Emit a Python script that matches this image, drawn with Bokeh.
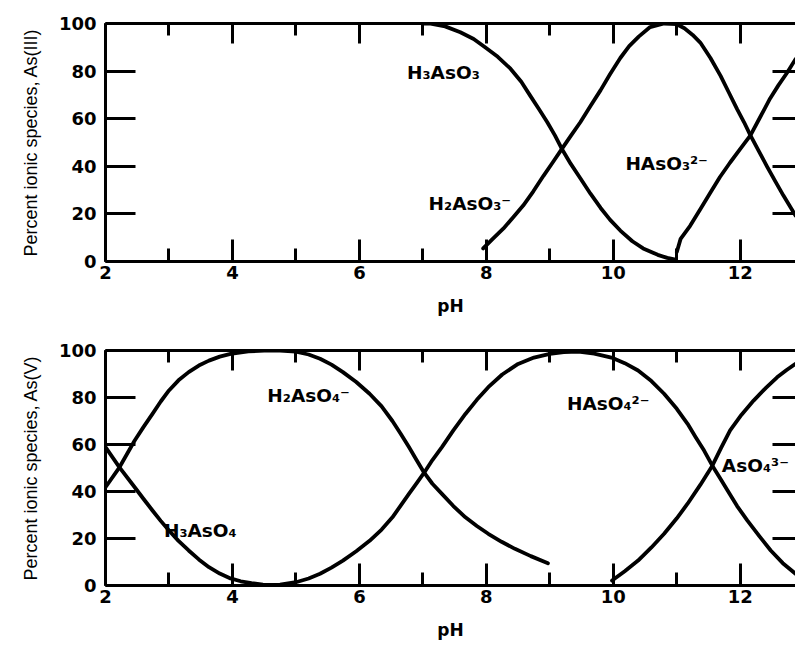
from bokeh.plotting import figure
from bokeh.models import (LinearAxis, SingleIntervalTicker, FixedTicker, Range1d,
                          CustomJSTickFormatter, ColumnDataSource)
from bokeh.layouts import column
from bokeh.embed import file_html
from bokeh.resources import INLINE
from bokeh.core.properties import value

# ---------------- As(III) panel data (pH, percent) ----------------
as3_h3aso3_ph = [7.00, 7.10, 7.35, 7.59, 7.80, 7.98, 8.18, 8.38, 8.55, 8.69, 8.83, 8.96, 9.08, 9.19, 9.33, 9.48, 9.64, 9.80, 9.95, 10.11, 10.30, 10.47, 10.70, 10.85, 10.98]
as3_h3aso3_pct = [100, 100, 98.8, 96.3, 93.5, 90, 86, 81, 75.5, 69.7, 64, 58.5, 53, 47.3, 41, 35, 28.5, 22.5, 17.5, 13, 8.5, 5.5, 2.8, 1.5, 0.8]

as3_h2aso3_ph = [7.95, 8.10, 8.27, 8.42, 8.58, 8.74, 8.90, 9.05, 9.19, 9.33, 9.48, 9.64, 9.80, 9.95, 10.11, 10.25, 10.40, 10.58, 10.80, 11.00, 11.12, 11.25, 11.37, 11.53, 11.69, 11.82, 11.95, 12.06, 12.16, 12.29, 12.42, 12.55, 12.68, 12.87]
as3_h2aso3_pct = [5.5, 9.5, 13.9, 18.5, 23.5, 29.5, 36, 41.8, 47.3, 52.8, 58.5, 65.3, 72, 78.8, 85.5, 90.5, 94.5, 98.5, 100, 99.7, 98, 95.2, 92, 85.5, 78, 71, 64, 58.5, 53, 46.5, 40, 33.8, 27.7, 19.3]

as3_haso3_ph = [11.00, 11.06, 11.21, 11.37, 11.53, 11.68, 11.84, 12.00, 12.16, 12.31, 12.47, 12.60, 12.74, 12.87]
as3_haso3_pct = [4, 9.5, 15, 22, 29, 35.5, 41.6, 47.3, 53, 60.5, 68.5, 74, 79.4, 85]

as3_label_text = ["H\u2083AsO\u2083", "H\u2082AsO\u2083\u207b", "HAsO\u2083\u00b2\u207b"]
as3_label_ph = [6.75, 7.09, 10.19]
as3_label_pct = [79.5, 24.4, 41]

# ---------------- As(V) panel data (pH, percent) ----------------
as5_h3aso4_ph = [2.00, 2.22, 2.46, 2.60, 2.74, 2.87, 3.00, 3.15, 3.31, 3.47, 3.63, 3.80, 3.97, 4.13, 4.30, 4.48, 4.67, 4.80]
as5_h3aso4_pct = [58.9, 50.3, 41.8, 36.8, 31.9, 27.5, 23.4, 19, 14.9, 11.1, 7.8, 5.1, 3, 1.8, 1, 0.4, 0.1, 0]

as5_h2aso4_ph = [2.00, 2.22, 2.46, 2.60, 2.74, 2.87, 3.00, 3.15, 3.31, 3.47, 3.63, 3.80, 3.97, 4.25, 4.50, 4.75, 5.00, 5.20, 5.38, 5.56, 5.74, 5.95, 6.16, 6.35, 6.52, 6.65, 6.78, 6.90, 7.02, 7.15, 7.30, 7.48, 7.67, 7.85, 8.03, 8.24, 8.45, 8.70, 8.97]
as5_h2aso4_pct = [41.8, 50.3, 61.7, 67.5, 73, 78.3, 83, 87.3, 90.8, 93.6, 95.7, 97.4, 98.6, 99.6, 100, 100, 99.5, 98.3, 96.5, 94, 90.8, 86.6, 81.6, 76.2, 70, 64.6, 58.9, 53.4, 48, 43.3, 39, 33.8, 29, 25.3, 22, 18.6, 15.6, 12.5, 9.5]

as5_haso4_ph = [4.50, 4.75, 5.00, 5.20, 5.38, 5.56, 5.74, 5.95, 6.16, 6.35, 6.52, 6.65, 6.78, 6.90, 7.02, 7.15, 7.30, 7.48, 7.67, 7.85, 8.03, 8.25, 8.50, 8.75, 9.00, 9.22, 9.45, 9.70, 9.97, 10.18, 10.39, 10.60, 10.80, 11.00, 11.17, 11.30, 11.43, 11.56, 11.68, 11.80, 11.95, 12.11, 12.30, 12.48, 12.67, 12.87]
as5_haso4_pct = [0, 0.4, 1.4, 3, 5, 7.6, 10.6, 14.6, 19, 23.8, 29, 34, 39, 43.5, 48, 53.4, 58.9, 66, 73, 79, 84.4, 89.8, 94.3, 97, 98.6, 99.3, 99.5, 98.7, 97, 94.6, 91.5, 87, 81.6, 75.2, 68.8, 63, 57.4, 51, 45.7, 40.4, 33.8, 27.7, 21, 14.9, 9.5, 5]

as5_aso4_ph = [9.98, 10.18, 10.39, 10.60, 10.80, 11.00, 11.17, 11.37, 11.56, 11.70, 11.84, 12.02, 12.21, 12.40, 12.58, 12.73, 12.87]
as5_aso4_pct = [2.1, 6.1, 10.6, 16.2, 22, 28.6, 34.8, 42.8, 51, 58.7, 66, 72.7, 78.7, 84, 88.6, 91.7, 94.3]

as5_label_text = ["H\u2082AsO\u2084\u207b", "H\u2083AsO\u2084", "HAsO\u2084\u00b2\u207b", "AsO\u2084\u00b3\u207b"]
as5_label_ph = [4.55, 2.92, 9.27, 11.71]
as5_label_pct = [81, 23.4, 77.3, 51]

x_start, x_end = 2, 12.87
y_ticks = [0, 20, 40, 60, 80, 100]
side_ticks = [20, 40, 60, 80]

TICK_FONT = "DejaVu Sans"
TITLE_FONT = "Liberation Sans"


def blank():
    return CustomJSTickFormatter(code="return ''")


def make_panel(ytitle, curves, labels, height, b_top, b_bottom):
    p = figure(width=795, height=height, x_range=Range1d(x_start, x_end),
               y_range=Range1d(0, 100), output_backend="svg", toolbar_location=None,
               min_border_left=105, min_border_right=0, min_border_top=b_top,
               min_border_bottom=b_bottom)
    p.outline_line_color = None
    p.grid.visible = False
    p.background_fill_color = "white"
    p.border_fill_color = "white"

    xa = p.xaxis[0]
    xa.ticker = SingleIntervalTicker(interval=2, num_minor_ticks=2)
    xa.axis_line_width = 3
    xa.major_tick_in = 22
    xa.major_tick_out = 0
    xa.minor_tick_in = 13
    xa.minor_tick_out = 0
    xa.major_tick_line_width = 3
    xa.minor_tick_line_width = 3
    xa.major_label_text_font = TICK_FONT
    xa.major_label_text_font_style = "bold"
    xa.major_label_text_font_size = "18px"
    xa.major_label_text_color = "black"
    xa.major_label_standoff = 4
    xa.axis_label = "pH"
    xa.axis_label_text_font = TICK_FONT
    xa.axis_label_text_font_style = "bold"
    xa.axis_label_text_font_size = "17px"
    xa.axis_label_text_color = "black"
    xa.axis_label_standoff = 14

    ya = p.yaxis[0]
    ya.ticker = FixedTicker(ticks=y_ticks)
    ya.axis_line_width = 3
    ya.major_tick_in = 30
    ya.major_tick_out = 0
    ya.major_tick_line_width = 3
    ya.minor_tick_line_color = None
    ya.major_label_text_font = TICK_FONT
    ya.major_label_text_font_style = "bold"
    ya.major_label_text_font_size = "18px"
    ya.major_label_text_color = "black"
    ya.major_label_standoff = 9
    ya.axis_label = ytitle
    ya.axis_label_text_font = TITLE_FONT
    ya.axis_label_text_font_style = "normal"
    ya.axis_label_text_font_size = "18px"
    ya.axis_label_text_color = "black"
    ya.axis_label_standoff = 15

    top = LinearAxis(ticker=SingleIntervalTicker(interval=2, num_minor_ticks=2),
                     formatter=blank(), axis_line_width=3,
                     major_tick_in=20, major_tick_out=0, minor_tick_in=12, minor_tick_out=0,
                     major_tick_line_width=3, minor_tick_line_width=3,
                     major_label_standoff=0)
    p.add_layout(top, "above")

    right = LinearAxis(ticker=FixedTicker(ticks=side_ticks), formatter=blank(),
                       axis_line_color=None, major_tick_in=23, major_tick_out=0,
                       major_tick_line_width=3, minor_tick_line_color=None,
                       major_label_standoff=0)
    p.add_layout(right, "right")

    for xs, ys in curves:
        p.line(xs, ys, line_color="black", line_width=3.8, line_join="round", line_cap="round")

    txt, lx, ly = labels
    src = ColumnDataSource(dict(x=lx, y=ly, text=txt))
    p.text(x="x", y="y", text="text", source=src, text_font=value(TICK_FONT),
           text_font_style="bold", text_font_size="18.5px", text_baseline="middle",
           text_align="left", text_color="black")
    return p


p1 = make_panel("Percent ionic species, As(III)",
                [(as3_h3aso3_ph, as3_h3aso3_pct), (as3_h2aso3_ph, as3_h2aso3_pct),
                 (as3_haso3_ph, as3_haso3_pct)],
                (as3_label_text, as3_label_ph, as3_label_pct),
                height=330, b_top=23, b_bottom=69)

p2 = make_panel("Percent ionic species, As(V)",
                [(as5_h3aso4_ph, as5_h3aso4_pct), (as5_h2aso4_ph, as5_h2aso4_pct),
                 (as5_haso4_ph, as5_haso4_pct), (as5_aso4_ph, as5_aso4_pct)],
                (as5_label_text, as5_label_ph, as5_label_pct),
                height=316, b_top=20, b_bottom=61)

layout = column(p1, p2, spacing=0)
open("out.html", "w").write(file_html(layout, INLINE))
